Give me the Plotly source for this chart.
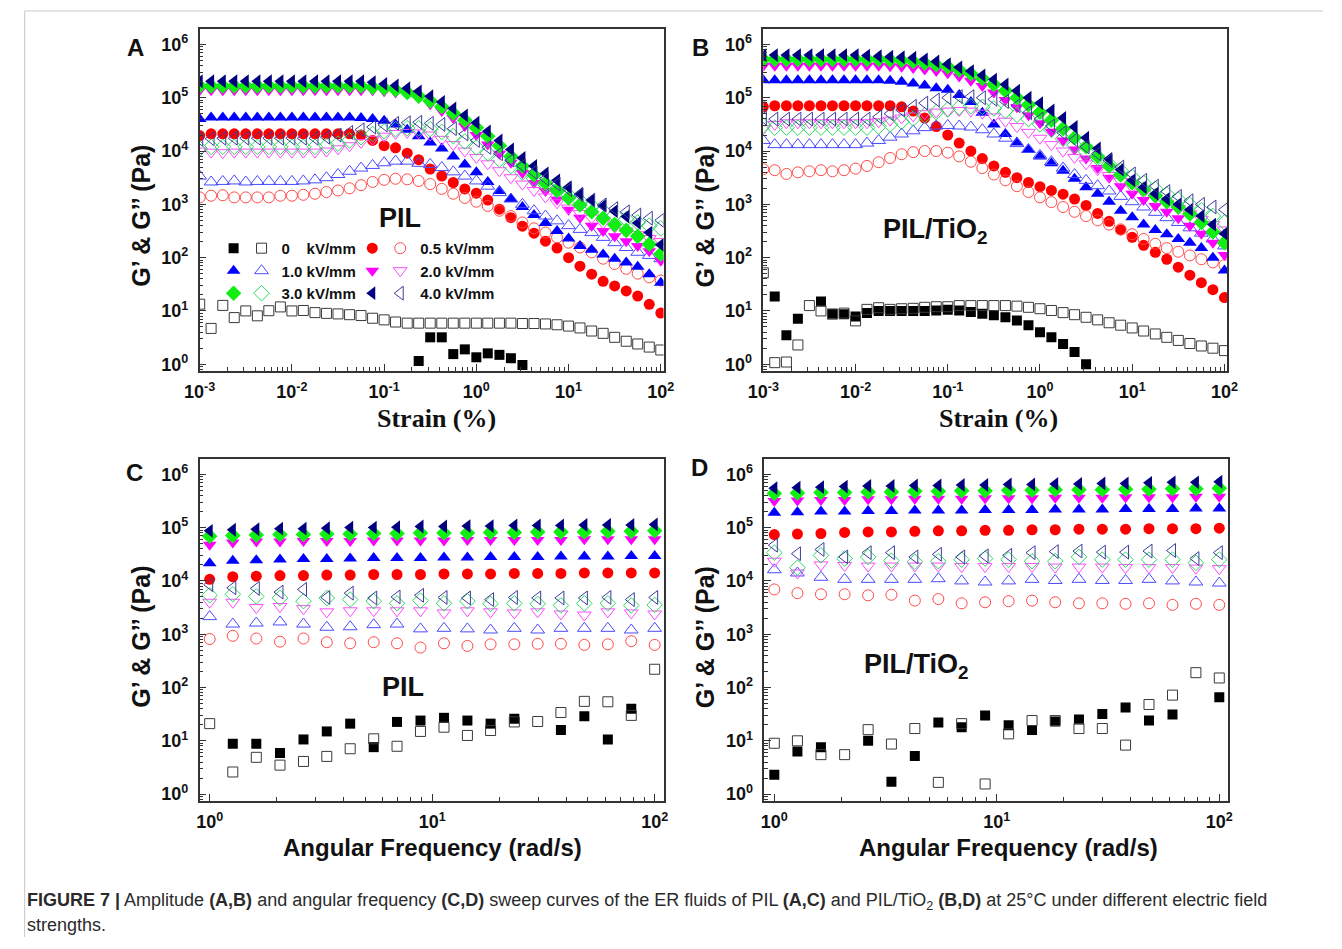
import plotly.graph_objects as go

N = None
FW, FH = 1326, 933   # figure size in pixels

# ---------------- x grids ----------------
strain = [0.001, 0.00133, 0.00178, 0.00237, 0.00316, 0.00422, 0.00562, 0.0075,
          0.01, 0.0133, 0.0178, 0.0237, 0.0316, 0.0422, 0.0562, 0.075,
          0.1, 0.133, 0.178, 0.237, 0.316, 0.422, 0.562, 0.75,
          1, 1.33, 1.78, 2.37, 3.16, 4.22, 5.62, 7.5,
          10, 13.3, 17.8, 23.7, 31.6, 42.2, 56.2, 75, 100]
freq = [1.0, 1.27, 1.62, 2.07, 2.64, 3.36, 4.28, 5.46, 6.95, 8.86,
        11.3, 14.4, 18.3, 23.4, 29.8, 37.9, 48.3, 61.6, 78.5, 100]

# ---------------- Panel A (PIL, strain sweep) ----------------
a_gp_0 = [N, N, N, N, N, N, N, N, N, N, N, N, N, N, N, N,
          N, N, N, 1.15, 3.2, 3.2, 1.55, 1.9, 1.35, 1.6, 1.5, 1.3, 0.97, N, N, N,
          N, N, N, N, N, N, N, N, N]
a_gpp_0 = [13.4, 4.7, 12.7, 7.5, 10, 8.1, 10.1, 11.9, 10, 10.2, 9.3, 9.0, 8.8, 8.5, 8.2, 7.3,
           6.8, 6.2, 5.9, 5.9, 5.9, 5.9, 5.9, 5.9, 5.9, 5.9, 5.9, 5.9, 5.8, 5.8, 5.7, 5.5,
           5.2, 4.8, 4.2, 3.8, 3.2, 2.7, 2.4, 2.1, 1.85]
a_gp_05 = [1.95e4, 2.1e4, 2.1e4, 2.1e4, 2.1e4, 2.1e4, 2.1e4, 2.1e4, 2.1e4, 2.1e4, 2.1e4, 2.1e4, 2.1e4, 2.1e4, 2.0e4, 1.58e4,
           1.26e4, 1.15e4, 9.1e3, 6.9e3, 4.6e3, 3.4e3, 2.57e3, 1.95e3, 1.62e3, 1.2e3, 813, 562, 389, 288, 204, 151,
           100, 69, 49, 36, 29.5, 23.7, 19, 13.3, 9.1]
a_gpp_05 = [1.35e3, 1.45e3, 1.48e3, 1.35e3, 1.35e3, 1.35e3, 1.35e3, 1.45e3, 1.45e3, 1.51e3, 1.58e3, 1.7e3, 1.82e3, 2.0e3, 2.29e3, 2.63e3,
            2.88e3, 3.02e3, 2.95e3, 2.75e3, 2.4e3, 1.95e3, 1.58e3, 1.32e3, 1.12e3, 933, 759, 603, 457, 355, 295, 240,
            191, 155, 126, 95.5, 75.9, 61.7, 50.1, 42.7, 37.2]
a_gp_1 = [3.98e4, 4.27e4, 4.27e4, 4.27e4, 4.27e4, 4.27e4, 4.27e4, 4.27e4, 4.27e4, 4.27e4, 4.27e4, 4.27e4, 4.27e4, 4.27e4, 4.17e4, 3.98e4,
          3.72e4, 3.16e4, 2.51e4, 1.9e4, 1.45e4, 1.12e4, 7.94e3, 5.62e3, 3.98e3, 2.63e3, 1.78e3, 1.26e3, 891, 631, 447, 316,
          229, 166, 141, 115, 95.5, 81.3, 67.6, 49, 33.9]
a_gpp_1 = [3.39e3, 2.63e3, 2.69e3, 2.75e3, 2.63e3, 2.69e3, 2.69e3, 2.69e3, 2.69e3, 2.75e3, 2.88e3, 3.16e3, 3.63e3, 4.17e3, 4.79e3, 5.37e3,
           6.03e3, 6.46e3, 6.46e3, 5.89e3, 5.62e3, 4.9e3, 4.07e3, 3.39e3, 2.75e3, 2.19e3, 1.66e3, 1.26e3, 1.0e3, 759, 603, 490,
           398, 339, 295, 240, 191, 155, 126, 110, 95.5]
a_gp_2 = [1.38e5, 1.38e5, 1.38e5, 1.38e5, 1.38e5, 1.38e5, 1.38e5, 1.38e5, 1.38e5, 1.38e5, 1.38e5, 1.38e5, 1.38e5, 1.38e5, 1.38e5, 1.38e5,
          1.32e5, 1.26e5, 1.2e5, 1.0e5, 7.59e4, 5.62e4, 4.17e4, 2.95e4, 2.0e4, 1.32e4, 8.91e3, 6.03e3, 3.89e3, 2.51e3, 1.78e3, 1.23e3,
          794, 562, 398, 316, 251, 204, 166, 132, 87.1]
a_gpp_2 = [1.0e4, 9.55e3, 9.33e3, 9.55e3, 9.55e3, 9.55e3, 9.55e3, 9.55e3, 9.55e3, 9.55e3, 9.55e3, 1.0e4, 1.1e4, 1.26e4, 1.45e4, 1.66e4,
           1.9e4, 2.14e4, 2.24e4, 2.19e4, 2.0e4, 1.66e4, 1.32e4, 1.0e4, 7.59e3, 5.75e3, 4.27e3, 3.16e3, 2.4e3, 1.82e3, 1.38e3, 1.07e3,
           851, 676, 550, 447, 372, 316, 269, 229, 200]
a_gp_3 = [1.66e5, 1.66e5, 1.66e5, 1.66e5, 1.66e5, 1.66e5, 1.66e5, 1.66e5, 1.66e5, 1.66e5, 1.66e5, 1.66e5, 1.66e5, 1.66e5, 1.66e5, 1.58e5,
          1.51e5, 1.41e5, 1.26e5, 1.07e5, 8.71e4, 6.76e4, 5.13e4, 3.8e4, 2.75e4, 1.9e4, 1.26e4, 7.94e3, 5.25e3, 3.55e3, 2.51e3, 1.82e3,
          1.32e3, 977, 724, 550, 417, 324, 251, 178, 117]
a_gpp_3 = [1.12e4, 1.2e4, 1.2e4, 1.2e4, 1.2e4, 1.2e4, 1.2e4, 1.2e4, 1.2e4, 1.2e4, 1.2e4, 1.26e4, 1.38e4, 1.58e4, 1.82e4, 2.09e4,
           2.34e4, 2.57e4, 2.69e4, 2.69e4, 2.57e4, 2.29e4, 1.9e4, 1.51e4, 1.17e4, 9.12e3, 6.92e3, 5.25e3, 3.98e3, 3.02e3, 2.34e3, 1.86e3,
           1.48e3, 1.17e3, 933, 759, 631, 525, 457, 398, 355]
a_gp_4 = [2.04e5, 2.04e5, 2.04e5, 2.04e5, 2.04e5, 2.04e5, 2.04e5, 2.04e5, 2.04e5, 2.04e5, 2.04e5, 2.04e5, 2.04e5, 2.04e5, 2.04e5, 1.95e5,
          1.82e5, 1.7e5, 1.51e5, 1.32e5, 1.07e5, 8.32e4, 6.31e4, 4.68e4, 3.39e4, 2.34e4, 1.58e4, 1.07e4, 7.41e3, 5.25e3, 3.8e3, 2.82e3,
          2.09e3, 1.58e3, 1.2e3, 933, 741, 589, 447, 295, 174]
a_gpp_4 = [1.66e4, 1.7e4, 1.74e4, 1.74e4, 1.74e4, 1.74e4, 1.74e4, 1.74e4, 1.74e4, 1.74e4, 1.74e4, 1.82e4, 2.0e4, 2.24e4, 2.51e4, 2.82e4,
           3.09e4, 3.31e4, 3.39e4, 3.47e4, 3.31e4, 3.16e4, 2.63e4, 2.09e4, 1.58e4, 1.17e4, 8.91e3, 6.76e3, 5.25e3, 3.98e3, 3.02e3, 2.4e3,
           1.9e3, 1.51e3, 1.2e3, 977, 832, 724, 631, 550, 501]

# ---------------- Panel B (PIL/TiO2, strain sweep) ----------------
b_gp_0 = [N, 18.6, 3.5, 7.1, N, 15, 8.9, 8.7, 7.9, 9.1, 10, 10, 10, 10, 10, 10.2,
          10.5, 10.2, 9.5, 8.9, 8.3, 7.6, 6.6, 5.4, 4.0, 3.2, 2.4, 1.7, 1.0, N, N, N,
          N, N, N, N, N, N, N, N, N]
b_gpp_0 = [52, 1.07, 1.1, 2.3, 12.6, 10, 8.7, 9.1, 6.5, 10.7, 11.5, 10.7, 11, 11.2, 11.7, 12,
           12, 12.6, 12.6, 12.6, 12.6, 12.6, 12.3, 11.7, 11, 10.2, 9.3, 8.5, 7.6, 6.8, 6.0, 5.4,
           4.8, 4.2, 3.7, 3.2, 2.8, 2.45, 2.2, 2.0, 1.8]
b_gp_05 = [6.76e4, 7.08e4, 7.08e4, 7.08e4, 7.08e4, 7.08e4, 7.08e4, 7.08e4, 7.08e4, 7.08e4, 7.08e4, 7.08e4, 6.76e4, 5.62e4, 4.17e4, 2.88e4,
           2.0e4, 1.41e4, 1.0e4, 7.24e3, 5.25e3, 3.98e3, 3.16e3, 2.57e3, 2.14e3, 1.82e3, 1.55e3, 1.26e3, 955, 676, 479, 331,
           240, 170, 126, 93.3, 66.1, 46.8, 33.9, 25.1, 17.8]
b_gpp_05 = [4.57e3, 4.37e3, 3.72e3, 3.98e3, 4.17e3, 4.37e3, 4.17e3, 4.37e3, 4.68e3, 5.25e3, 6.17e3, 7.41e3, 8.71e3, 9.55e3, 1.0e4, 1.0e4,
            9.33e3, 7.94e3, 6.31e3, 4.79e3, 3.63e3, 2.82e3, 2.19e3, 1.7e3, 1.35e3, 1.1e3, 891, 724, 603, 501, 417, 339,
            275, 224, 182, 151, 129, 110, 93.3, 81.3, 72.4]
b_gp_1 = [2.14e5, 2.14e5, 2.14e5, 2.14e5, 2.14e5, 2.14e5, 2.14e5, 2.14e5, 2.14e5, 2.14e5, 2.14e5, 2.09e5, 2.0e5, 1.86e5, 1.7e5, 1.51e5,
          1.41e5, 1.12e5, 8.32e4, 5.25e4, 3.16e4, 2.09e4, 1.45e4, 1.05e4, 7.94e3, 5.89e3, 4.27e3, 3.02e3, 2.09e3, 1.58e3, 1.12e3, 759,
          575, 417, 331, 275, 224, 191, 151, 100, 57.5]
b_gpp_1 = [1.58e4, 1.32e4, 1.32e4, 1.32e4, 1.32e4, 1.32e4, 1.32e4, 1.32e4, 1.32e4, 1.41e4, 1.58e4, 1.82e4, 2.09e4, 2.4e4, 2.75e4, 2.95e4,
           3.02e4, 2.95e4, 2.82e4, 2.51e4, 2.09e4, 1.74e4, 1.38e4, 1.07e4, 8.32e3, 6.31e3, 4.79e3, 3.63e3, 2.82e3, 2.24e3, 1.78e3, 1.41e3,
           1.12e3, 891, 708, 562, 457, 363, 288, 224, 166]
b_gp_2 = [3.98e5, 3.98e5, 3.98e5, 3.98e5, 3.98e5, 3.98e5, 3.98e5, 3.98e5, 3.98e5, 3.98e5, 3.98e5, 3.89e5, 3.8e5, 3.63e5, 3.39e5, 3.16e5,
          2.88e5, 2.51e5, 2.09e5, 1.66e5, 1.26e5, 9.12e4, 6.61e4, 4.68e4, 3.31e4, 2.29e4, 1.58e4, 1.07e4, 7.24e3, 4.79e3, 3.16e3, 2.19e3,
          1.58e3, 1.2e3, 933, 724, 550, 398, 282, 191, 112]
b_gpp_2 = [2.63e4, 3.16e4, 3.39e4, 3.39e4, 3.39e4, 3.39e4, 3.39e4, 3.39e4, 3.39e4, 3.39e4, 3.55e4, 3.8e4, 4.17e4, 4.57e4, 5.01e4, 5.37e4,
           5.62e4, 5.75e4, 5.62e4, 5.13e4, 4.37e4, 3.63e4, 2.88e4, 2.24e4, 1.74e4, 1.32e4, 1.0e4, 7.59e3, 5.75e3, 4.47e3, 3.47e3, 2.69e3,
           2.09e3, 1.66e3, 1.32e3, 1.05e3, 832, 661, 525, 417, 331]
b_gp_3 = [5.25e5, 5.25e5, 5.25e5, 5.25e5, 5.25e5, 5.25e5, 5.25e5, 5.25e5, 5.25e5, 5.25e5, 5.25e5, 5.13e5, 5.01e5, 4.79e5, 4.47e5, 4.17e5,
          3.8e5, 3.31e5, 2.82e5, 2.29e5, 1.78e5, 1.35e5, 1.0e5, 7.41e4, 5.37e4, 3.8e4, 2.63e4, 1.78e4, 1.2e4, 7.94e3, 5.25e3, 3.55e3,
          2.51e3, 1.91e3, 1.45e3, 1.12e3, 891, 661, 457, 302, 191]
b_gpp_3 = [3.02e4, 2.75e4, 2.75e4, 2.75e4, 2.75e4, 2.75e4, 2.75e4, 2.75e4, 2.75e4, 2.75e4, 2.88e4, 3.16e4, 3.55e4, 4.07e4, 4.68e4, 5.37e4,
           6.03e4, 6.61e4, 6.92e4, 6.76e4, 6.31e4, 5.62e4, 4.79e4, 3.98e4, 3.16e4, 2.51e4, 1.7e4, 1.29e4, 9.77e3, 7.41e3, 5.62e3, 4.27e3,
           3.24e3, 2.51e3, 1.95e3, 1.55e3, 1.23e3, 977, 776, 603, 457]
b_gp_4 = [6.31e5, 6.31e5, 6.31e5, 6.31e5, 6.31e5, 6.31e5, 6.31e5, 6.31e5, 6.31e5, 6.17e5, 6.03e5, 5.89e5, 5.75e5, 5.62e5, 5.25e5, 4.79e5,
          4.27e5, 3.72e5, 3.16e5, 2.63e5, 2.19e5, 1.78e5, 1.35e5, 1.0e5, 7.94e4, 5.75e4, 4.17e4, 2.82e4, 1.78e4, 1.12e4, 7.08e3, 4.47e3,
          2.82e3, 2.09e3, 1.58e3, 1.26e3, 1.0e3, 794, 603, 417, 282]
b_gpp_4 = [4.17e4, 3.98e4, 3.98e4, 3.98e4, 3.98e4, 3.98e4, 3.98e4, 3.98e4, 3.98e4, 3.98e4, 4.37e4, 5.01e4, 5.89e4, 6.92e4, 7.94e4, 9.12e4,
           1.0e5, 1.05e5, 1.05e5, 1.0e5, 9.33e4, 8.51e4, 7.08e4, 5.25e4, 3.98e4, 2.95e4, 2.19e4, 1.62e4, 1.2e4, 8.91e3, 6.61e3, 5.01e3,
           3.72e3, 2.82e3, 2.19e3, 1.74e3, 1.41e3, 1.17e3, 1.0e3, 891, 794]

# ---------------- Panel C (PIL, frequency sweep) ----------------
c_gp_0 = [N, 8.8, 8.8, 5.9, 10.6, 15, 21, 7.6, 22.6, 24, 27, 24, 21, 26, N, 16, 29, 10.6, 40, N]
c_gpp_0 = [21, 2.6, 4.9, 3.5, 4.1, 5.1, 7.1, 10.9, 7.9, 15, 18, 12.6, 15.6, 22.6, 23, 34, 55, 54, 30, 220]
c_gp_05 = [1.07e4, 1.2e4, 1.23e4, 1.26e4, 1.26e4, 1.29e4, 1.29e4, 1.32e4, 1.32e4, 1.32e4,
           1.35e4, 1.35e4, 1.35e4, 1.38e4, 1.38e4, 1.38e4, 1.41e4, 1.41e4, 1.41e4, 1.41e4]
c_gpp_05 = [813, 933, 832, 724, 832, 708, 676, 708, 676, 562, 676, 603, 646, 646, 661, 661, 631, 646, 741, 631]
c_gp_1 = [2.14e4, 2.4e4, 2.45e4, 2.51e4, 2.57e4, 2.57e4, 2.63e4, 2.69e4, 2.69e4, 2.69e4,
          2.75e4, 2.75e4, 2.82e4, 2.82e4, 2.82e4, 2.88e4, 2.88e4, 2.88e4, 2.95e4, 2.95e4]
c_gpp_1 = [2.14e3, 1.55e3, 1.62e3, 1.7e3, 1.55e3, 1.35e3, 1.38e3, 1.51e3, 1.55e3, 1.26e3,
           1.29e3, 1.26e3, 1.2e3, 1.29e3, 1.2e3, 1.29e3, 1.29e3, 1.29e3, 1.2e3, 1.29e3]
c_gp_2 = [4.79e4, 5.25e4, 5.5e4, 5.5e4, 5.62e4, 5.62e4, 5.62e4, 5.75e4, 5.75e4, 5.75e4,
          5.75e4, 5.89e4, 5.89e4, 5.89e4, 5.89e4, 5.89e4, 6.03e4, 6.03e4, 6.03e4, 6.03e4]
c_gpp_2 = [3.98e3, 3.98e3, 3.16e3, 3.31e3, 3.02e3, 2.63e3, 2.75e3, 2.75e3, 2.75e3, 2.75e3,
           2.51e3, 2.75e3, 2.63e3, 2.51e3, 2.63e3, 2.4e3, 2.29e3, 2.63e3, 2.51e3, 2.4e3]
c_gp_3 = [6.92e4, 7.08e4, 7.24e4, 7.41e4, 7.41e4, 7.59e4, 7.59e4, 7.76e4, 7.76e4, 7.94e4,
          7.94e4, 7.94e4, 8.13e4, 8.13e4, 8.32e4, 8.32e4, 8.32e4, 8.51e4, 8.51e4, 8.71e4]
c_gpp_3 = [5.37e3, 5.62e3, 5.13e3, 4.79e3, 4.17e3, 4.79e3, 4.47e3, 4.17e3, 3.8e3, 4.27e3,
           3.8e3, 4.17e3, 3.72e3, 3.8e3, 3.72e3, 3.47e3, 3.8e3, 3.8e3, 3.47e3, 3.55e3]
c_gp_4 = [8.71e4, 9.12e4, 9.33e4, 9.55e4, 9.55e4, 9.77e4, 1.0e5, 1.0e5, 1.02e5, 1.05e5,
          1.05e5, 1.07e5, 1.07e5, 1.1e5, 1.1e5, 1.1e5, 1.12e5, 1.12e5, 1.12e5, 1.15e5]
c_gpp_4 = [8.51e3, 7.41e3, 7.24e3, 6.17e3, 6.92e3, 4.9e3, 5.89e3, 4.79e3, 5.01e3, 5.37e3,
           4.9e3, 4.79e3, 4.47e3, 4.9e3, 4.79e3, 4.79e3, 4.79e3, 4.9e3, 4.47e3, 4.9e3]

# ---------------- Panel D (PIL/TiO2, frequency sweep) ----------------
d_gp_0 = [2.3, 6.3, 7.6, N, 10, 1.7, 5.2, 22, 18, 30, 19.5, 16, 23, 25, 32, 42, 24, 31, N, 66]
d_gpp_0 = [9, 10, 5.5, 5.5, 16.2, 8.7, 17, 1.66, 21, 1.55, 13.5, 24, 24, 17, 17, 8.3, 48, 72, 190, 151]
d_gp_05 = [7.41e4, 7.59e4, 7.76e4, 8.13e4, 8.32e4, 8.32e4, 8.51e4, 8.71e4, 8.71e4, 8.91e4,
           8.91e4, 9.12e4, 9.12e4, 9.33e4, 9.33e4, 9.33e4, 9.55e4, 9.55e4, 9.55e4, 9.77e4]
d_gpp_05 = [6.92e3, 5.89e3, 5.62e3, 5.62e3, 5.37e3, 5.5e3, 4.27e3, 4.57e3, 3.8e3, 3.98e3,
            4.17e3, 4.27e3, 3.98e3, 3.8e3, 3.8e3, 3.72e3, 3.8e3, 3.55e3, 3.72e3, 3.55e3]
d_gp_1 = [1.91e5, 1.95e5, 2.0e5, 2.0e5, 2.04e5, 2.04e5, 2.09e5, 2.09e5, 2.09e5, 2.14e5,
          2.14e5, 2.14e5, 2.19e5, 2.19e5, 2.19e5, 2.24e5, 2.24e5, 2.24e5, 2.29e5, 2.29e5]
d_gpp_1 = [1.62e4, 1.41e4, 1.17e4, 1.07e4, 1.07e4, 1.07e4, 1.07e4, 1.1e4, 1.0e4, 9.55e3,
           1.0e4, 1.07e4, 1.02e4, 1.07e4, 1.02e4, 1.02e4, 1.07e4, 1.0e4, 9.55e3, 9.12e3]
d_gp_2 = [3.16e5, 3.24e5, 3.31e5, 3.31e5, 3.39e5, 3.39e5, 3.47e5, 3.47e5, 3.47e5, 3.55e5,
          3.55e5, 3.55e5, 3.63e5, 3.63e5, 3.63e5, 3.72e5, 3.72e5, 3.72e5, 3.8e5, 3.8e5]
d_gpp_2 = [2.34e4, 1.41e4, 2.0e4, 1.95e4, 1.9e4, 1.9e4, 1.9e4, 1.9e4, 1.86e4, 1.86e4,
           1.86e4, 1.86e4, 1.82e4, 1.82e4, 1.82e4, 1.78e4, 1.78e4, 1.78e4, 1.74e4, 1.7e4]
d_gp_3 = [4.37e5, 4.47e5, 4.57e5, 4.57e5, 4.68e5, 4.68e5, 4.79e5, 4.79e5, 4.9e5, 4.9e5,
          5.01e5, 5.01e5, 5.13e5, 5.13e5, 5.13e5, 5.25e5, 5.25e5, 5.37e5, 5.37e5, 5.5e5]
d_gpp_3 = [3.39e4, 1.78e4, 3.02e4, 2.63e4, 2.82e4, 2.4e4, 2.29e4, 2.34e4, 2.51e4, 2.63e4,
           2.51e4, 2.34e4, 2.34e4, 2.82e4, 2.51e4, 2.51e4, 2.51e4, 2.51e4, 2.19e4, 2.51e4]
d_gp_4 = [5.5e5, 5.62e5, 5.75e5, 5.89e5, 6.03e5, 6.03e5, 6.17e5, 6.17e5, 6.31e5, 6.31e5,
          6.46e5, 6.46e5, 6.61e5, 6.61e5, 6.76e5, 6.76e5, 6.92e5, 7.08e5, 7.08e5, 7.24e5]
d_gpp_4 = [4.68e4, 3.24e4, 3.89e4, 2.82e4, 3.39e4, 3.39e4, 2.82e4, 3.16e4, 2.82e4, 2.95e4,
           3.02e4, 3.39e4, 3.55e4, 3.63e4, 3.47e4, 3.47e4, 3.63e4, 3.72e4, 2.63e4, 3.39e4]

# ---------------- legend / style tables ----------------
field_labels = ["0\u00a0\u00a0\u00a0\u00a0kV/mm", "0.5 kV/mm", "1.0 kV/mm",
                "2.0 kV/mm", "3.0 kV/mm", "4.0 kV/mm"]
filled_colors = ["#000000", "#ff0000", "#0000ff", "#ff00ff", "#11ee11", "#000080"]
open_colors = ["#3a3a3a", "#ff4a4a", "#4a4aff", "#ff4aff", "#2bd860", "#3c3c9c"]
filled_symbols = ["square", "circle", "triangle-up", "triangle-down", "diamond", "triangle-left"]
open_symbols = ["square-open", "circle-open", "triangle-up-open", "triangle-down-open",
                "diamond-open", "triangle-left-open"]
marker_sizes = [10, 11, 12, 12, 12, 12]

panels = [
    ("x", "y", strain, [a_gp_0, a_gp_05, a_gp_1, a_gp_2, a_gp_3, a_gp_4],
     [a_gpp_0, a_gpp_05, a_gpp_1, a_gpp_2, a_gpp_3, a_gpp_4]),
    ("x2", "y2", strain, [b_gp_0, b_gp_05, b_gp_1, b_gp_2, b_gp_3, b_gp_4],
     [b_gpp_0, b_gpp_05, b_gpp_1, b_gpp_2, b_gpp_3, b_gpp_4]),
    ("x3", "y3", freq, [c_gp_0, c_gp_05, c_gp_1, c_gp_2, c_gp_3, c_gp_4],
     [c_gpp_0, c_gpp_05, c_gpp_1, c_gpp_2, c_gpp_3, c_gpp_4]),
    ("x4", "y4", freq, [d_gp_0, d_gp_05, d_gp_1, d_gp_2, d_gp_3, d_gp_4],
     [d_gpp_0, d_gpp_05, d_gpp_1, d_gpp_2, d_gpp_3, d_gpp_4]),
]

fig = go.Figure()
for pi, (xa, ya, xs, gps, gpps) in enumerate(panels):
    for k in range(6):
        assert len(gps[k]) == len(xs) and len(gpps[k]) == len(xs)
        col = 0 if k in (0, 2, 4) else 1
        fig.add_trace(go.Scatter(
            x=xs, y=gps[k], xaxis=xa, yaxis=ya, mode="markers",
            marker=dict(symbol=filled_symbols[k], size=marker_sizes[k],
                        color=filled_colors[k], line=dict(width=0)),
            name=" ", showlegend=(pi == 0),
            legend="legend" if col == 0 else "legend3"))
        fig.add_trace(go.Scatter(
            x=xs, y=gpps[k], xaxis=xa, yaxis=ya, mode="markers",
            marker=dict(symbol=open_symbols[k], size=marker_sizes[k],
                        color=open_colors[k], line=dict(width=1, color=open_colors[k])),
            name="<b>" + field_labels[k] + "</b>", showlegend=(pi == 0),
            legend="legend2" if col == 0 else "legend4"))


# map target picture pixel positions to paper fractions
def fx(x):
    return (x - 22.9) / 0.982


def fy(y):
    return (y - 7.0) / 0.996


def px(x):
    return fx(x) / FW


def py(y):
    return 1 - fy(y) / FH


SANS = "Liberation Sans, Arial, sans-serif"
SERIF = "Liberation Serif, Times New Roman, serif"
AXC = "#333333"


def sup_text(vals):
    return ["<b>10<sup>%s</sup></b>" % v for v in vals]


def minor_vals(e0, e1):
    out = []
    for e in range(e0, e1 + 1):
        for m in range(2, 10):
            out.append(m * 10.0 ** e)
    return out


def axis(domain, rng, tickvals, ticktext, minors, anchor, standoff):
    return dict(type="log", domain=domain, range=rng, anchor=anchor,
                showline=True, linecolor=AXC, linewidth=1.5, mirror=True,
                ticks="inside", ticklen=7, tickwidth=1.2, tickcolor=AXC,
                tickmode="array", tickvals=tickvals, ticktext=ticktext,
                tickfont=dict(family=SANS, size=18, color="#111111"),
                ticklabelstandoff=standoff,
                showgrid=False, zeroline=False,
                minor=dict(ticks="inside", ticklen=4, tickwidth=1, tickcolor=AXC,
                           tickmode="array", tickvals=minors, showgrid=False))


strain_ticks = [0.001, 0.01, 0.1, 1, 10, 100]
strain_text = sup_text(["-3", "-2", "-1", "0", "1", "2"])
freq_ticks = [1, 10, 100]
freq_text = sup_text(["0", "1", "2"])
g_ticks = [1, 10, 100, 1e3, 1e4, 1e5, 1e6]
g_text = sup_text(["0", "1", "2", "3", "4", "5", "6"])

yr = [-0.125, 6.29]
domA_x = [px(199), px(664)]
domB_x = [px(764), px(1229)]
domC_x = [px(199), px(664)]
domD_x = [px(765), px(1230)]
dom_top = [py(370), py(28)]
dom_bot = [py(800), py(458)]

fig.update_layout(
    width=FW, height=FH, margin=dict(l=0, r=0, t=0, b=0), autosize=False,
    paper_bgcolor="white", plot_bgcolor="white",
    xaxis=axis(domA_x, [-3, 2.03], strain_ticks, strain_text, minor_vals(-3, 1), "y", 4),
    yaxis=axis(dom_top, yr, g_ticks, g_text, [0.8, 0.9] + minor_vals(0, 5), "x", 6),
    xaxis2=axis(domB_x, [-3, 2.03], strain_ticks, strain_text, minor_vals(-3, 1), "y2", 4),
    yaxis2=axis(dom_top, yr, g_ticks, g_text, [0.8, 0.9] + minor_vals(0, 5), "x2", 6),
    xaxis3=axis(domC_x, [-0.045, 2.04], freq_ticks, freq_text, [0.9] + minor_vals(0, 1), "y3", 4),
    yaxis3=axis(dom_bot, yr, g_ticks, g_text, [0.8, 0.9] + minor_vals(0, 5), "x3", 6),
    xaxis4=axis(domD_x, [-0.045, 2.04], freq_ticks, freq_text, [0.9] + minor_vals(0, 1), "y4", 4),
    yaxis4=axis(dom_bot, yr, g_ticks, g_text, [0.8, 0.9] + minor_vals(0, 5), "x4", 6),
    showlegend=True,
)

leg_font = dict(family=SANS, size=15, color="#111111")
leg_top = py(231)
LEG_SYM_OFF = 20.4 / FW
for name, xsym in (("legend", 233), ("legend2", 261), ("legend3", 372), ("legend4", 400)):
    fig.update_layout({name: dict(x=px(xsym) - LEG_SYM_OFF, y=leg_top, xanchor="left",
                                  yanchor="top", orientation="v", bgcolor="rgba(0,0,0,0)",
                                  borderwidth=0, font=leg_font, tracegroupgap=0,
                                  itemclick=False, itemdoubleclick=False)})

ann = []


def add_text(x, y, text, size, family=SANS, angle=0, xanchor="center", color="#111111"):
    ann.append(dict(x=px(x), y=py(y), xref="paper", yref="paper", text=text,
                    showarrow=False, xanchor=xanchor, yanchor="middle", textangle=angle,
                    font=dict(family=family, size=size, color=color)))


# panel letters
add_text(135, 47, "<b>A</b>", 24)
add_text(701, 47, "<b>B</b>", 24)
add_text(134, 472, "<b>C</b>", 24)
add_text(700, 467, "<b>D</b>", 24)
# material labels
add_text(400, 217, "<b>PIL</b>", 27)
add_text(937, 230, "<b>PIL/TiO<sub>2</sub></b>", 27)
add_text(403, 686, "<b>PIL</b>", 27)
add_text(918, 665, "<b>PIL/TiO<sub>2</sub></b>", 27)
# axis titles
ytitle = "<b>G\u2019 &amp; G\u2019\u2019 (Pa)</b>"
add_text(140, 215, ytitle, 25, angle=-90)
add_text(705, 215, ytitle, 25, angle=-90)
add_text(140, 636, ytitle, 25, angle=-90)
add_text(705, 636, ytitle, 25, angle=-90)
add_text(436, 418, "<b>Strain (%)</b>", 26, family=SERIF)
add_text(1000, 418, "<b>Strain (%)</b>", 26, family=SERIF)
add_text(432, 847, "<b>Angular Frequency (rad/s)</b>", 24)
add_text(1010, 847, "<b>Angular Frequency (rad/s)</b>", 24)
# caption
add_text(24, 901, "<b>FIGURE 7 |</b> Amplitude <b>(A,B)</b> and angular frequency <b>(C,D)</b> "
         "sweep curves of the ER fluids of PIL <b>(A,C)</b> and PIL/TiO<sub>2</sub> <b>(B,D)</b> "
         "at 25\u00b0C under different electric field", 18, xanchor="left", color="#2a2a2a")
add_text(24, 924, "strengths.", 18, xanchor="left", color="#2a2a2a")

fig.update_layout(annotations=ann)
fig.update_layout(shapes=[
    dict(type="line", xref="paper", yref="paper", x0=0.0005, x1=1, y0=py(10), y1=py(10),
         line=dict(color="#c8c8c8", width=1)),
    dict(type="line", xref="paper", yref="paper", x0=0.0005, x1=0.0005, y0=py(10), y1=0,
         line=dict(color="#c8c8c8", width=1)),
])

fig.write_html("out.html")
